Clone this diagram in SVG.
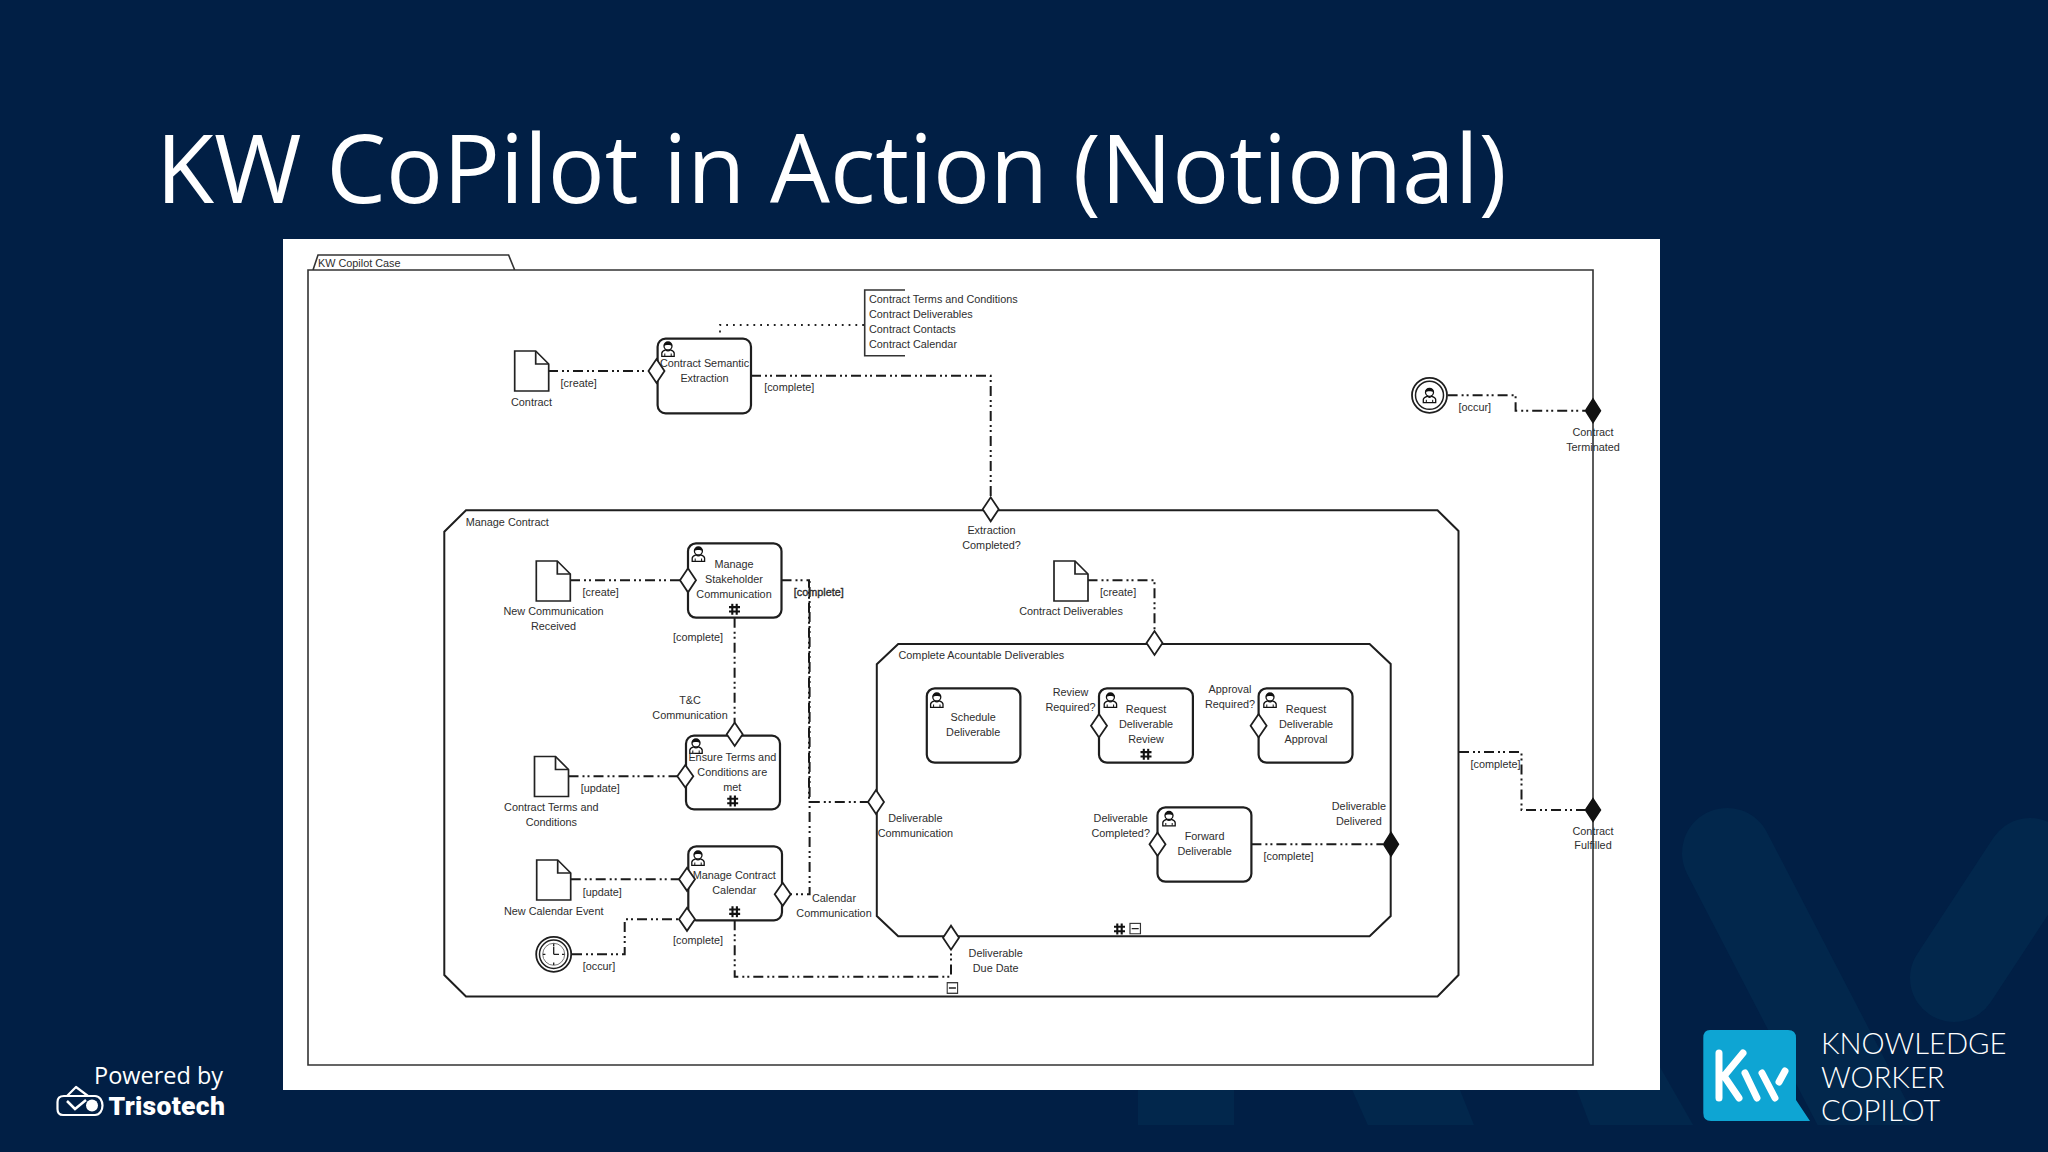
<svg xmlns="http://www.w3.org/2000/svg" width="2048" height="1152" viewBox="0 0 2048 1152">
<style>
text{font-family:"Liberation Sans",Arial,sans-serif;font-size:10.85px;fill:#2e2e2e}
.m{text-anchor:middle}
.shape{fill:none;stroke:#1e1e1e;stroke-width:2}
.wshape{fill:#fff;stroke:#1e1e1e;stroke-width:2.2}
.frame{fill:none;stroke:#333;stroke-width:1.6}
.conn{fill:none;stroke:#1a1a1a;stroke-width:2;stroke-dasharray:10 4 2 3 2 4}
.dot{fill:none;stroke:#222;stroke-width:1.8;stroke-dasharray:1.8 5}
.gw{fill:#fff;stroke:#1e1e1e;stroke-width:1.8}
.gb{fill:#111;stroke:#111;stroke-width:1.5}
.ui{font-family:"Open Sans","Noto Sans",sans-serif;fill:#fff}
.kw{font-family:Lato,"Open Sans",sans-serif;font-size:29.2px;font-weight:300;fill:#fff}
.band{fill:#02274c}
</style>
<defs>
<symbol id="person" viewBox="0 0 14 16" width="14" height="16" overflow="visible">
<circle cx="7" cy="5" r="4" fill="#fff" stroke="#111" stroke-width="1.3"/>
<path d="M2.900 5C2.600 -0.500 11.400 -0.500 11.100 5C9 3.700 5 3.700 2.900 5Z" fill="#111"/>
<path d="M.8 15.400V12.200C.8 10.200 3.400 9.400 4.800 8.900C6 10.300 8 10.300 9.200 8.900C10.600 9.400 13.200 10.200 13.200 12.200V15.400Z" fill="#fff" stroke="#111" stroke-width="1.300"/>
<path d="M3.800 15V12.500M10.200 15V12.500" stroke="#111" stroke-width="1"/>
</symbol>
<symbol id="hash" viewBox="0 0 12 12" width="12" height="12">
<path d="M3.800 0.500V11.500M8.200 0.500V11.500M0.500 3.800H11.500M0.500 8.200H11.500" stroke="#111" stroke-width="2.100" fill="none"/>
</symbol>
<symbol id="doc" viewBox="0 0 34 40" width="34" height="40" overflow="visible">
<path d="M0 0H21L34 13V40H0Z" fill="#fff" stroke="#222" stroke-width="1.700"/>
<path d="M21 0V13H34" fill="none" stroke="#222" stroke-width="1.700"/>
</symbol>
<symbol id="minus" viewBox="0 0 12 12" width="12" height="12">
<rect x=".7" y=".7" width="10.600" height="10.600" fill="#fff" stroke="#333" stroke-width="1.300"/>
<path d="M2.500 6H9.500" stroke="#222" stroke-width="1.300"/>
</symbol>
<clipPath id="wm"><rect x="0" y="0" width="2048" height="1125"/></clipPath>
</defs>

<rect id="background" width="2048" height="1152" fill="#011f45"/>
<g id="watermark" clip-path="url(#wm)">
<rect class="band" x="1138" y="1085" width="96" height="45"/>
<path class="band" d="M1350 1085H1458L1476 1130H1370Z"/>
<path class="band" d="M1575 1085L1592 1130H1696L1660 1067V1085Z"/>
<path d="M1727 853L1876 1140" stroke="#02274c" stroke-width="90" stroke-linecap="round" fill="none"/>
<path d="M2030 862L1954 978" stroke="#02274c" stroke-width="88" stroke-linecap="round" fill="none"/>
</g>

<text id="title" class="ui" x="156" y="203" style="font-size:94.800px">KW CoPilot in Action (Notional)</text>

<rect id="panel" x="283" y="239" width="1377" height="851" fill="#fff"/>

<g id="case-frame">
<path class="frame" d="M308 270H1593V1065H308ZM313 270L318 255H508.600L514.700 270"/>
<text x="318" y="267.300">KW Copilot Case</text>
</g>
<g id="manage-contract">
<path class="shape" d="M466 510.300H1437.500L1458.500 531V975L1437.500 996.500H466L444.300 975V531.700Z"/>
<text x="465.700" y="526">Manage Contract</text>
</g>
<g id="complete-deliverables">
<path class="shape" d="M898.200 644H1369.600L1390.700 664V916L1369.600 936.300H898.200L876.800 916V664.300Z"/>
<text x="898.500" y="659.300">Complete Acountable Deliverables</text>
<use href="#hash" x="1113.500" y="923"/>
<use href="#minus" x="1129.200" y="922.600"/>
</g>

<g id="connectors">
<path class="dot" d="M864 325H720V333"/>
<path class="conn" d="M548 371H649"/>
<path class="conn" d="M751 375.700H990.700V498"/>
<path class="conn" d="M1447.600 395.300H1515.600V410.700H1585"/>
<path class="conn" d="M570 580.300H680"/>
<path class="conn" d="M1087.500 580.300H1154.500V631"/>
<path class="conn" d="M781.500 580.300H809V802H868"/>
<path class="conn" style="stroke-dashoffset:9" d="M791 894.300H809.600V580.300"/>
<path class="conn" d="M734.600 617.700V722.700"/>
<path class="conn" d="M568.500 776.300H677"/>
<path class="conn" d="M570.700 879.300H679"/>
<path class="conn" d="M572 954.300H624.700V919.300H679"/>
<path class="conn" d="M734.700 920.300V976.700H951V950"/>
<path class="conn" d="M1251.400 844.300H1383"/>
<path class="conn" d="M1459 752H1521.500V810H1585"/>
</g>

<g id="connector-labels">
<text x="560.600" y="387">[create]</text>
<text x="764.200" y="391">[complete]</text>
<text x="1458.500" y="411">[occur]</text>
<text x="582.600" y="596.300">[create]</text>
<text x="1100" y="596.300">[create]</text>
<text x="793.800" y="596.300" style="stroke:#2a2a2a;stroke-width:.35">[complete]</text>
<text class="m" x="698" y="641">[complete]</text>
<text x="580.700" y="791.700">[update]</text>
<text x="582.700" y="895.700">[update]</text>
<text x="582.700" y="970">[occur]</text>
<text class="m" x="698" y="944.300">[complete]</text>
<text x="1263.600" y="860">[complete]</text>
<text x="1470.500" y="768">[complete]</text>
</g>

<g id="annotation">
<path class="frame" d="M905 290H864.700V355.700H905"/>
<text x="869" y="303.300">Contract Terms and Conditions</text>
<text x="869" y="318.300">Contract Deliverables</text>
<text x="869" y="333.300">Contract Contacts</text>
<text x="869" y="348.300">Contract Calendar</text>
</g>

<g id="doc-contract"><use href="#doc" x="514.700" y="351"/><text class="m" x="531.500" y="406.200">Contract</text></g>
<g id="doc-new-communication"><use href="#doc" x="536.300" y="561"/><text class="m" x="553.500" y="615.200">New Communication</text><text class="m" x="553.500" y="630.200">Received</text></g>
<g id="doc-contract-deliverables"><use href="#doc" x="1054" y="561"/><text class="m" x="1071" y="615.200">Contract Deliverables</text></g>
<g id="doc-terms"><use href="#doc" x="534.500" y="756.500"/><text class="m" x="551.300" y="811">Contract Terms and</text><text class="m" x="551.300" y="826">Conditions</text></g>
<g id="doc-calendar-event"><use href="#doc" x="536.700" y="860"/><text class="m" x="553.700" y="915">New Calendar Event</text></g>

<g id="task-extraction">
<rect class="wshape" x="657.600" y="338.700" width="93.400" height="74.600" rx="8"/>
<use href="#person" x="661" y="341"/>
<text class="m" x="704.500" y="367.300">Contract Semantic</text><text class="m" x="704.500" y="382">Extraction</text>
<path class="gw" d="M648.500 371L656.500 359L664.500 371L656.500 383Z"/>
</g>
<g id="task-stakeholder">
<rect class="wshape" x="688" y="543.300" width="93.500" height="74.400" rx="8"/>
<use href="#person" x="691.400" y="546"/>
<text class="m" x="734" y="568.300">Manage</text><text class="m" x="734" y="583.300">Stakeholder</text><text class="m" x="734" y="598.300">Communication</text>
<use href="#hash" x="728.500" y="603.300"/>
<path class="gw" d="M680 580.300L688 568.300L696 580.300L688 592.300Z"/>
</g>
<g id="task-terms">
<rect class="wshape" x="686" y="735.700" width="94" height="73.600" rx="8"/>
<use href="#person" x="689" y="738"/>
<text class="m" x="732.300" y="760.700">Ensure Terms and</text><text class="m" x="732.300" y="775.700">Conditions are</text><text class="m" x="732.300" y="790.700">met</text>
<use href="#hash" x="726.700" y="795"/>
<path class="gw" d="M726.700 734.300L734.700 722.500L742.700 734.300L734.700 746Z"/>
<path class="gw" d="M677.300 776.300L685.300 765L693.300 776.300L685.300 787.500Z"/>
</g>
<g id="task-calendar">
<rect class="wshape" x="688.300" y="846.300" width="93.700" height="74" rx="8"/>
<use href="#person" x="691" y="850"/>
<text class="m" x="734.300" y="879.300">Manage Contract</text><text class="m" x="734.300" y="894.300">Calendar</text>
<use href="#hash" x="728.700" y="905.700"/>
<path class="gw" d="M679 879.300L687 867.800L695 879.300L687 890.800Z"/>
<path class="gw" d="M679 919.300L687 907.800L695 919.300L687 930.800Z"/>
<path class="gw" d="M774.700 894.300L782.700 882.800L790.700 894.300L782.700 905.800Z"/>
</g>
<g id="task-schedule">
<rect class="wshape" x="926.800" y="688.300" width="93.600" height="74.400" rx="8"/>
<use href="#person" x="929.800" y="692"/>
<text class="m" x="973.200" y="721">Schedule</text><text class="m" x="973.200" y="736">Deliverable</text>
</g>
<g id="task-review">
<rect class="wshape" x="1099" y="688.300" width="93.900" height="74.400" rx="8"/>
<use href="#person" x="1103.400" y="692"/>
<text class="m" x="1146" y="713.300">Request</text><text class="m" x="1146" y="728.300">Deliverable</text><text class="m" x="1146" y="743.300">Review</text>
<use href="#hash" x="1140" y="748.300"/>
<path class="gw" d="M1091 725.700L1099 714L1107 725.700L1099 737.400Z"/>
<text class="m" x="1070.500" y="696">Review</text><text class="m" x="1070.500" y="711">Required?</text>
</g>
<g id="task-approval">
<rect class="wshape" x="1258.600" y="688.300" width="93.900" height="74.400" rx="8"/>
<use href="#person" x="1263" y="692"/>
<text class="m" x="1306" y="713.300">Request</text><text class="m" x="1306" y="728.300">Deliverable</text><text class="m" x="1306" y="743.300">Approval</text>
<path class="gw" d="M1250.600 725.700L1258.600 714L1266.600 725.700L1258.600 737.400Z"/>
<text class="m" x="1230" y="693.300">Approval</text><text class="m" x="1230" y="708.300">Required?</text>
</g>
<g id="task-forward">
<rect class="wshape" x="1157.500" y="807.300" width="93.900" height="74.400" rx="8"/>
<use href="#person" x="1162" y="810.500"/>
<text class="m" x="1204.600" y="839.700">Forward</text><text class="m" x="1204.600" y="854.700">Deliverable</text>
<path class="gw" d="M1149.500 844.300L1157.500 832.600L1165.500 844.300L1157.500 856Z"/>
<text class="m" x="1120.700" y="821.700">Deliverable</text><text class="m" x="1120.700" y="836.700">Completed?</text>
</g>

<g id="sentry-extraction"><path class="gw" d="M982.700 509.300L990.700 497.300L998.700 509.300L990.700 521.300Z"/><text class="m" x="991.500" y="534.200">Extraction</text><text class="m" x="991.500" y="549.200">Completed?</text></g>
<g id="sentry-deliverables"><path class="gw" d="M1146.500 643L1154.500 631L1162.500 643L1154.500 655Z"/></g>
<g id="sentry-communication"><path class="gw" d="M868 802L876 790L884 802L876 814Z"/><text class="m" x="915.400" y="822.200">Deliverable</text><text class="m" x="915.400" y="837.200">Communication</text></g>
<g id="sentry-due"><path class="gw" d="M943 937.700L951 925.700L959 937.700L951 949.700Z"/><text class="m" x="995.700" y="957.300">Deliverable</text><text class="m" x="995.700" y="972.300">Due Date</text></g>
<g id="sentry-delivered"><path class="gb" d="M1383.500 844.300L1391 832.500L1398.500 844.300L1391 856Z"/><text class="m" x="1358.900" y="810">Deliverable</text><text class="m" x="1358.900" y="825">Delivered</text></g>
<g id="sentry-terminated"><path class="gb" d="M1585.500 410.700L1593 399L1600.500 410.700L1593 422.500Z"/><text class="m" x="1593" y="436.200">Contract</text><text class="m" x="1593" y="451.200">Terminated</text></g>
<g id="sentry-fulfilled"><path class="gb" d="M1585.500 810L1593 798.500L1600.500 810L1593 821.500Z"/><text class="m" x="1593" y="834.700">Contract</text><text class="m" x="1593" y="849.200">Fulfilled</text></g>
<g id="labels-misc">
<text class="m" x="690" y="704.300">T&amp;C</text><text class="m" x="690" y="719.300">Communication</text>
<text class="m" x="834" y="902.300">Calendar</text><text class="m" x="834" y="917.300">Communication</text>
</g>
<g id="minus-manage"><use href="#minus" x="946.400" y="982"/></g>

<g id="event-user">
<circle cx="1429.500" cy="395.300" r="17.500" fill="#fff" stroke="#1e1e1e" stroke-width="1.800"/>
<circle cx="1429.500" cy="395.300" r="14" fill="none" stroke="#1e1e1e" stroke-width="1.500"/>
<use href="#person" x="1422.500" y="387.300"/>
</g>
<g id="event-timer">
<circle cx="553.700" cy="954.300" r="17.500" fill="#fff" stroke="#1e1e1e" stroke-width="1.800"/>
<circle cx="553.700" cy="954.300" r="14.200" fill="none" stroke="#1e1e1e" stroke-width="1.500"/>
<circle cx="553.700" cy="954.300" r="11" fill="none" stroke="#555" stroke-width=".8"/>
<path d="M553.700 954.300V946.500M553.700 954.300H559M553.700 943.500V946M553.700 962.500V965M542.900 954.300H545.400M562 954.300H564.500" fill="none" stroke="#1e1e1e" stroke-width="1.300"/>
</g>

<g id="powered-by">
<text class="ui" x="94" y="1084" style="font-size:23.500px">Powered by</text>
<text x="108.500" y="1114.500" style="font-family:Roboto,'Open Sans',sans-serif;font-size:26.500px;font-weight:900;letter-spacing:.3px;fill:#fff">Trisotech</text>
<path d="M67 1096L76 1087L88 1096M64 1096H95C100 1096 102.500 1101 102.500 1105.500C102.500 1110 100 1115 95 1115H63C59 1115 57.500 1112 57.500 1109V1102C57.500 1098 60 1096 64 1096Z" fill="none" stroke="#fff" stroke-width="2.200" stroke-linejoin="round"/>
<path d="M67 1101L75 1109L86 1100" fill="none" stroke="#fff" stroke-width="2.500"/>
<circle cx="92" cy="1105.500" r="6" fill="#fff"/>
</g>

<g id="kw-logo">
<path d="M1710 1030H1788Q1796 1030 1796 1038V1100L1810 1121H1711Q1703.300 1121 1703.300 1113V1038Q1703.300 1030 1710 1030Z" fill="#0ea5d3"/>
<path d="M1719 1053V1098M1743 1053L1724 1076L1739 1098M1745 1073L1757 1098M1762 1073L1775 1098M1785 1071L1779 1082" fill="none" stroke="#fff" stroke-width="7" stroke-linecap="round" stroke-linejoin="round"/>
<text class="kw" x="1821" y="1054">KNOWLEDGE</text>
<text class="kw" x="1821" y="1087.500">WORKER</text>
<text class="kw" x="1821" y="1121">COPILOT</text>
</g>
</svg>
